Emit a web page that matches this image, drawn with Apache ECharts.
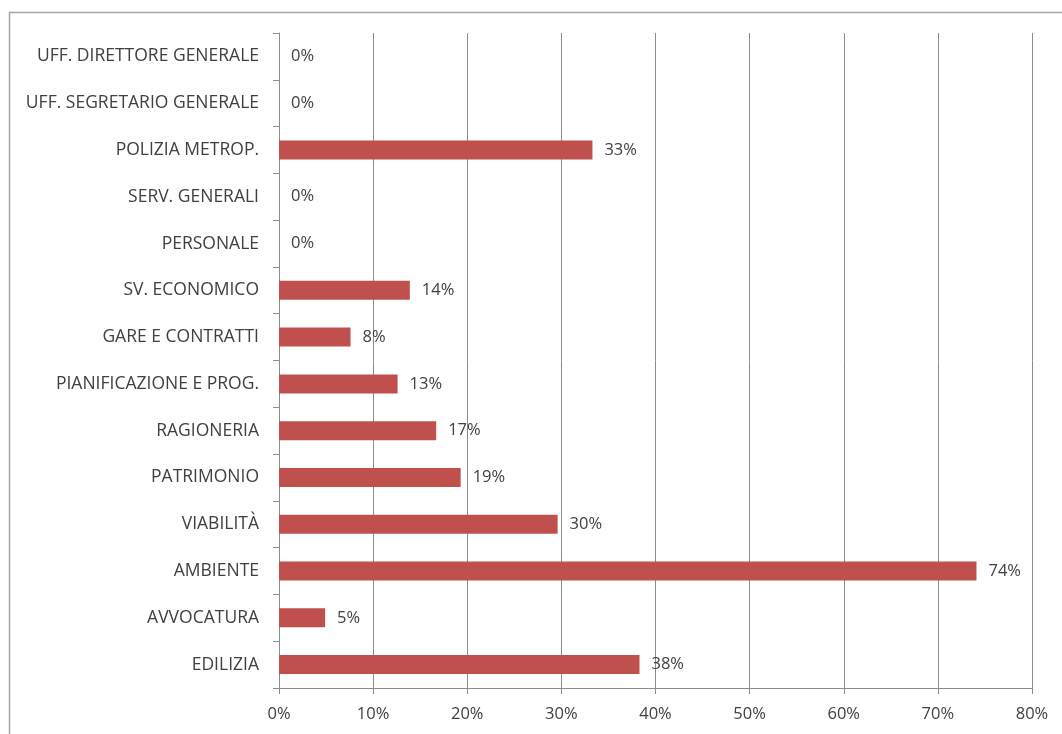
<!DOCTYPE html>
<html>
<head>
<meta charset="utf-8">
<script src="https://cdn.jsdelivr.net/npm/echarts@6/dist/echarts.min.js"></script>
<style>html,body{margin:0;padding:0;background:#fff}#c{width:1062px;height:734px}</style>
</head>
<body>
<div id="c"></div>
<script>
// bottom to top
const categories = ["EDILIZIA","AVVOCATURA","AMBIENTE","VIABILITÀ","PATRIMONIO","RAGIONERIA","PIANIFICAZIONE E PROG.","GARE E CONTRATTI","SV. ECONOMICO","PERSONALE","SERV. GENERALI","POLIZIA METROP.","UFF. SEGRETARIO GENERALE","UFF. DIRETTORE GENERALE"];
const values = [38.3, 4.9, 74.1, 29.6, 19.3, 16.7, 12.6, 7.6, 13.9, 0, 0, 33.3, 0, 0];
const xTicks = [0, 10, 20, 30, 40, 50, 60, 70, 80];

const chart = echarts.init(document.getElementById('c'), null, {renderer: 'canvas'});
const font = '"Open Sans", "Liberation Sans", sans-serif';
chart.setOption({
  animation: false,
  textStyle: {fontFamily: font},
  graphic: [{
    type: 'rect', silent: true,
    shape: {x: 9.5, y: 12.5, width: 1200, height: 900},
    style: {fill: 'none', stroke: '#a6a6a6', lineWidth: 1.5}
  }],
  grid: {left: 279, right: 30, top: 33, bottom: 46, containLabel: false},
  xAxis: {
    type: 'value', min: xTicks[0], max: xTicks[xTicks.length - 1], interval: 10,
    axisLine: {show: true, lineStyle: {color: '#8c8c8c', width: 1}},
    axisTick: {show: true, length: 6, lineStyle: {color: '#8c8c8c'}},
    axisLabel: {formatter: v => v + '%', color: '#404040', fontSize: 16.5, margin: 18, fontFamily: font},
    splitLine: {show: true, lineStyle: {color: '#8c8c8c', width: 1}}
  },
  yAxis: {
    type: 'category', data: categories,
    axisLine: {show: true, lineStyle: {color: '#8c8c8c', width: 1}},
    axisTick: {show: true, length: 6, lineStyle: {color: '#8c8c8c'}},
    axisLabel: {color: '#404040', fontSize: 17.5, margin: 20, fontFamily: font},
    splitLine: {show: false}
  },
  series: [{
    type: 'bar', data: values, barWidth: 19,
    itemStyle: {color: '#C0504D'},
    label: {show: true, position: 'right', distance: 12, color: '#404040', fontSize: 16.5, fontFamily: font,
      formatter: p => Math.round(p.value) + '%'}
  }]
});
</script>
</body>
</html>
